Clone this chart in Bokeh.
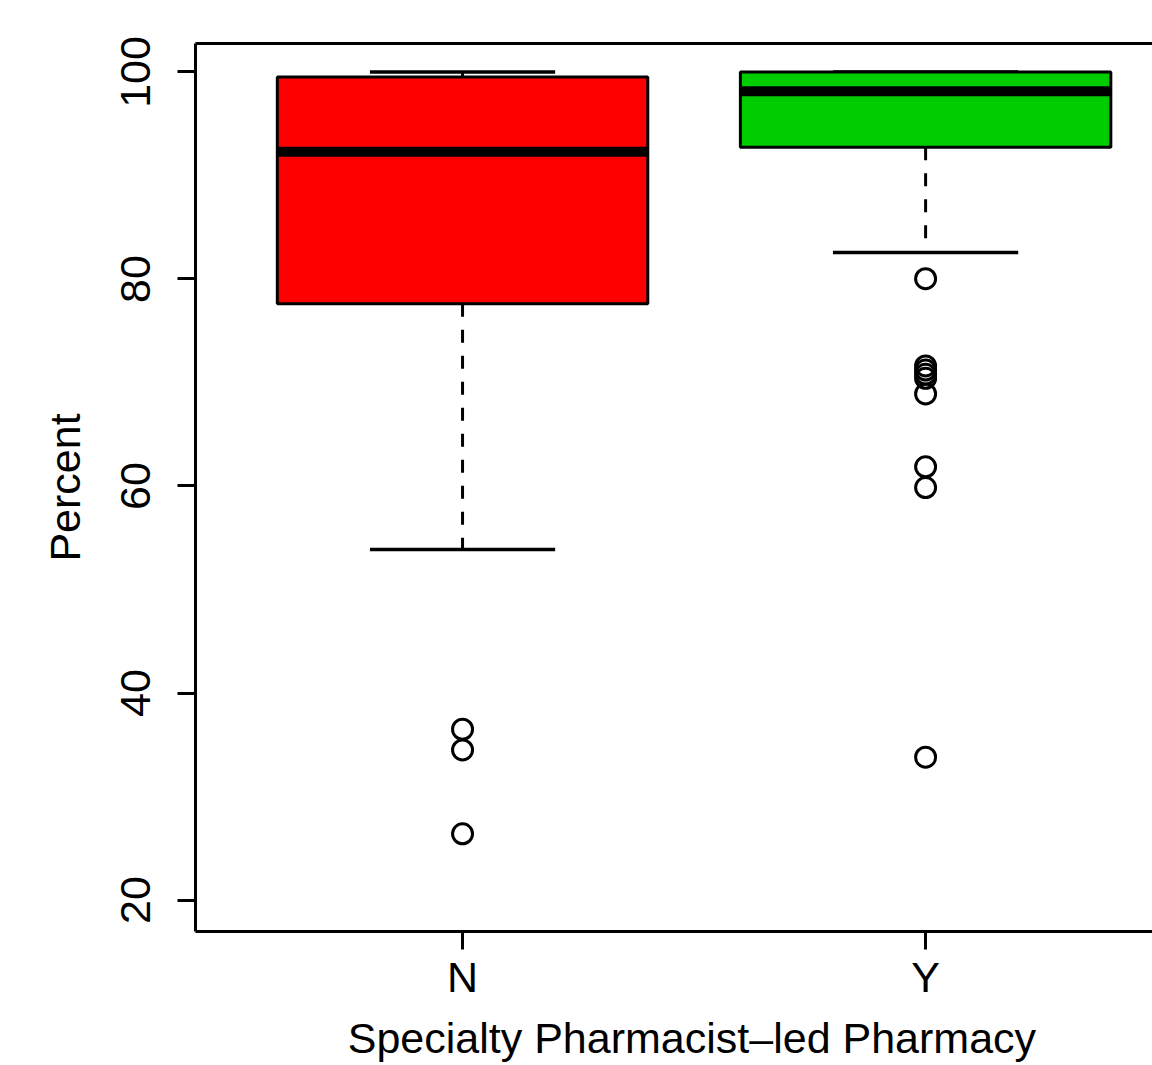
from bokeh.plotting import figure
from bokeh.models import (LinearAxis, FixedTicker, Range1d, ColumnDataSource)
from bokeh.embed import file_html
from bokeh.resources import INLINE

# ---- data ----
groups = ["N", "Y"]
fill_colors = ["#FF0000", "#00CD00"]
lower_whisker = [53.86, 82.57]
q1 = [77.6, 92.72]
median = [92.29, 98.13]
q3 = [99.52, 100.0]
upper_whisker = [100.0, 100.0]
outliers_N = [36.5, 34.5, 26.4]
outliers_Y = [80.03, 71.6, 71.2, 70.8, 70.4, 68.9, 61.85, 59.85, 33.8]
y_ticks = [20, 40, 60, 80, 100]
x_title = "Specialty Pharmacist\u2013led Pharmacy"
y_title = "Percent"

FONT = "Liberation Sans"
BOX_W = 0.8
CAP_W = 0.4

pos = [i + 1 for i in range(len(groups))]

p = figure(width=1152, height=1065, output_backend="svg", toolbar_location=None,
           x_range=Range1d(0.4233, 2.490), y_range=Range1d(16.96, 102.75),
           min_border_left=195, min_border_right=0, min_border_top=43,
           min_border_bottom=134, x_axis_location="below", y_axis_location="left")
p.outline_line_color = None
p.grid.visible = False
p.background_fill_color = "white"
p.border_fill_color = "white"

src = ColumnDataSource(dict(
    x=pos,
    left=[x - BOX_W / 2 for x in pos], right=[x + BOX_W / 2 for x in pos],
    cl=[x - CAP_W / 2 for x in pos], cr=[x + CAP_W / 2 for x in pos],
    lw=lower_whisker, q1=q1, med=median, q3=q3, uw=upper_whisker, color=fill_colors))

# whiskers (dashed)
p.segment(x0="x", y0="q1", x1="x", y1="lw", source=src, line_color="black",
          line_width=3, line_dash="13 13")
p.segment(x0="x", y0="q3", x1="x", y1="uw", source=src, line_color="black",
          line_width=3, line_dash="13 13")
# caps
p.segment(x0="cl", y0="lw", x1="cr", y1="lw", source=src, line_color="black", line_width=3.5)
p.segment(x0="cl", y0="uw", x1="cr", y1="uw", source=src, line_color="black", line_width=3.5)
# boxes
p.quad(left="left", right="right", bottom="q1", top="q3", source=src,
       fill_color="color", line_color="black", line_width=3)
# medians
p.segment(x0="left", y0="med", x1="right", y1="med", source=src,
          line_color="black", line_width=10)

# outliers
ox = [1] * len(outliers_N) + [2] * len(outliers_Y)
oy = outliers_N + outliers_Y
p.scatter(ox, oy, marker="circle", size=20, fill_color=None,
          line_color="black", line_width=3)

# axes
xa = p.xaxis[0]
xa.ticker = FixedTicker(ticks=pos)
xa.major_label_overrides = {x: g for x, g in zip(pos, groups)}
xa.axis_label = "\u00a0\u00a0\u00a0" + x_title
ya = p.yaxis[0]
ya.ticker = FixedTicker(ticks=y_ticks)
ya.major_label_orientation = "vertical"
ya.axis_label = y_title
for ax in (xa, ya):
    ax.axis_line_width = 3
    ax.axis_line_color = "black"
    ax.major_tick_line_width = 3
    ax.major_tick_line_color = "black"
    ax.major_tick_out = 18
    ax.major_tick_in = 0
    ax.minor_tick_line_color = None
    ax.major_label_text_font = FONT
    ax.major_label_text_font_size = "43px"
    ax.major_label_text_color = "black"
    ax.axis_label_text_font = FONT
    ax.axis_label_text_font_size = "43px"
    ax.axis_label_text_font_style = "normal"
    ax.axis_label_text_color = "black"
xa.major_label_standoff = 3
xa.axis_label_standoff = 10
ya.major_label_standoff = 27
ya.axis_label_standoff = 30

top = LinearAxis(ticker=FixedTicker(ticks=[]), axis_line_width=3, axis_line_color="black",
                 major_tick_line_color=None, minor_tick_line_color=None,
                 major_label_text_font_size="0px")
p.add_layout(top, "above")

open("out.html", "w").write(file_html(p, INLINE))
